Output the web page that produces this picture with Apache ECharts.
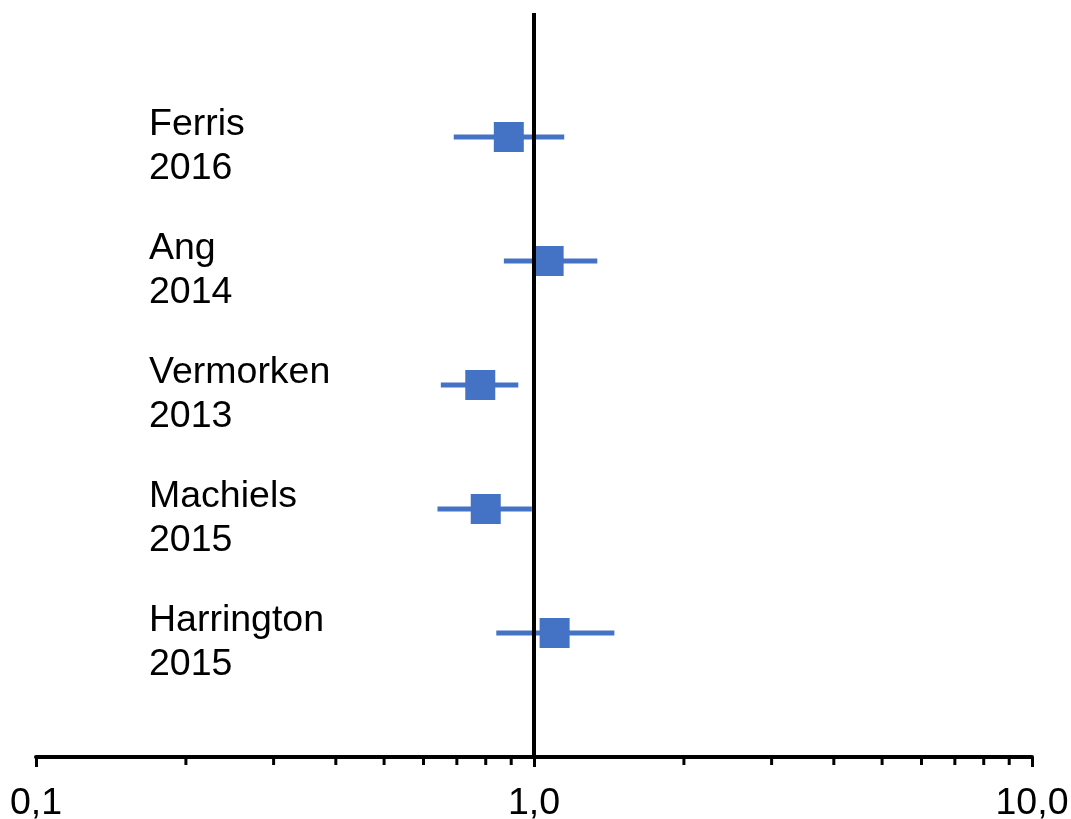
<!DOCTYPE html>
<html>
<head>
<meta charset="utf-8">
<script src="https://cdn.jsdelivr.net/npm/echarts@6/dist/echarts.min.js"></script>
<style>html,body{margin:0;padding:0;background:#fff;}#c{width:1071px;height:819px;}</style>
</head>
<body>
<div id="c"></div>
<script>
// Study labels (top to bottom)
var studies = ['Ferris\n2016', 'Ang\n2014', 'Vermorken\n2013', 'Machiels\n2015', 'Harrington\n2015'];
// Point estimates and confidence limits
var estimates = [0.89, 1.07, 0.78, 0.80, 1.10];
var lowerCI   = [0.69, 0.87, 0.65, 0.64, 0.84];
var upperCI   = [1.15, 1.34, 0.93, 0.99, 1.45];
// Row positions on the vertical scale (5 = top row)
var rows = [5, 4, 3, 2, 1];
// Minor tick values on the log axis
var minorTicks = [0.2,0.3,0.4,0.5,0.6,0.7,0.8,0.9,2,3,4,5,6,7,8,9];

var blue = '#4472C4';
var font = "'Liberation Sans', Arial, sans-serif";

var pointData = estimates.map(function (v, i) { return [v, rows[i]]; });
var ciData = lowerCI.map(function (v, i) { return [v, upperCI[i], rows[i]]; });
var labelData = rows.map(function (r, i) { return [r, studies[i]]; });
var tickData = minorTicks.map(function (v) { return [v]; });

var chart = echarts.init(document.getElementById('c'), null, {renderer: 'canvas'});
chart.setOption({
  animation: false,
  backgroundColor: '#fff',
  grid: {left: 36, right: 39, top: 13, bottom: 62, containLabel: false, outerBoundsMode: 'none'},
  xAxis: {
    type: 'log', logBase: 10, min: 0.1, max: 10, interval: 1,
    axisLine: {show: true, lineStyle: {color: '#000', width: 4}},
    axisTick: {show: true, length: 10, lineStyle: {color: '#000', width: 3}},
    minorTick: {show: false},
    splitLine: {show: false},
    axisLabel: {
      show: true, color: '#000', fontSize: 37.5, fontFamily: font, margin: 28,
      formatter: function (v) { return Number(v).toFixed(1).replace('.', ','); }
    }
  },
  yAxis: {
    type: 'value', min: 0, max: 6, interval: 1,
    axisLine: {show: false}, axisTick: {show: false}, splitLine: {show: false},
    axisLabel: {show: false}
  },
  series: [
    {
      type: 'custom', z: 2,
      data: ciData,
      encode: {x: [0, 1], y: 2},
      renderItem: function (params, api) {
        var p1 = api.coord([api.value(0), api.value(2)]);
        var p2 = api.coord([api.value(1), api.value(2)]);
        return {type: 'line', shape: {x1: p1[0], y1: p1[1], x2: p2[0], y2: p2[1]},
          style: {stroke: blue, lineWidth: 5}};
      }
    },
    {
      type: 'scatter', z: 3,
      data: pointData,
      symbol: 'rect', symbolSize: 30,
      itemStyle: {color: blue, opacity: 1}
    },
    {
      type: 'custom', z: 4,
      data: labelData,
      encode: {y: 0},
      renderItem: function (params, api) {
        var cs = params.coordSys;
        var p = api.coord([1, api.value(0)]);
        return {type: 'text', x: cs.x + 113, y: p[1] + 10,
          style: {text: studies[params.dataIndex], fill: '#000', fontSize: 37.5, fontFamily: font,
            lineHeight: 44, align: 'left', verticalAlign: 'middle'}};
      }
    },
    {
      type: 'custom', z: 10,
      data: tickData,
      encode: {x: 0},
      renderItem: function (params, api) {
        var p = api.coord([api.value(0), 0]);
        return {type: 'line', shape: {x1: p[0], y1: p[1], x2: p[0], y2: p[1] + 8},
          style: {stroke: '#000', lineWidth: 3}};
      },
      markLine: {
        silent: true, symbol: 'none', z: 10,
        label: {show: false},
        lineStyle: {color: '#000', width: 4, type: 'solid'},
        data: [{xAxis: 1}]
      }
    }
  ]
});
</script>
</body>
</html>
